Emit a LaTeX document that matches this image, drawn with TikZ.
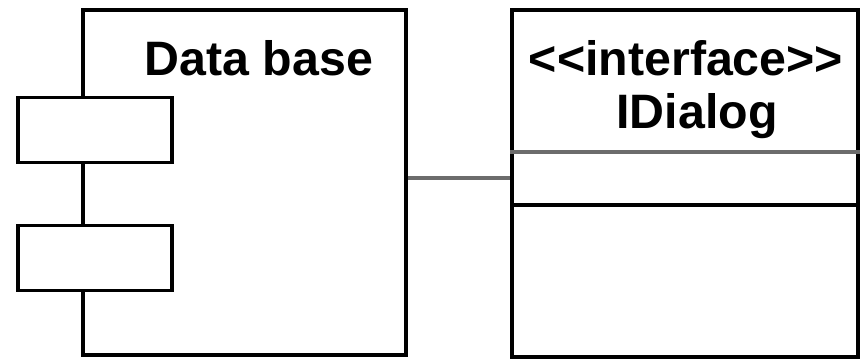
\documentclass[tikz,border=0pt]{standalone}
\usepackage{fontspec}
\setsansfont{Liberation Sans}
\usepackage{xcolor}
\usetikzlibrary{calc}

\tikzset{
  box/.style={draw, line width=2.2pt, fill=white, inner sep=0pt},
  label/.style={font=\sffamily\bfseries\fontsize{27.5}{33}\selectfont, inner sep=0pt, anchor=base},
}

\begin{document}
\begin{tikzpicture}[x=0.02cm,y=-0.02cm][>=latex]
\useasboundingbox (0,0) rectangle (866,362);
%component
\node[box, minimum width=6.46cm, minimum height=6.9cm] (comp) at (244.5,182.5) {};
\node[label] (compname) at (259,75) {Data base};
%ports
\node[box, minimum width=3.08cm, minimum height=1.3cm] (portA) at (95,130) {};
\node[box, minimum width=3.08cm, minimum height=1.3cm] (portB) at (95,258) {};
%interface
\node[box, minimum width=6.92cm, minimum height=6.94cm] (iface) at (685,183.5) {};
\node[label] (stereo) at (686,75) {<{}<interface>{}>};
\node[label] (ifname) at (697,128) {IDialog};
\draw[line width=2.4pt, gray!85!black] (iface.west |- 0,152) -- (iface.east |- 0,152);
\draw[line width=2.2pt] (iface.west |- 0,205) -- (iface.east |- 0,205);
%connector
\coordinate (link) at (0,178);
\draw[line width=2.4pt, gray!85!black] (comp.east |- link) -- (iface.west |- link);
\end{tikzpicture}
\end{document}
